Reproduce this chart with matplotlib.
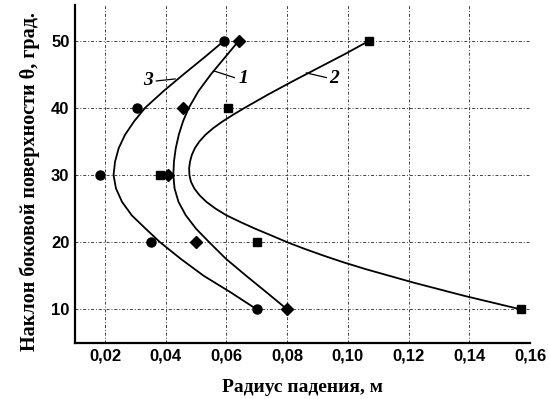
import numpy as np
import matplotlib.pyplot as plt

# Экспериментальные точки: угол наклона и радиус падения для трёх серий
theta = [10, 20, 30, 40, 50]
r1 = [0.080, 0.050, 0.0406, 0.0457, 0.0641]   # серия 1 (ромбы)
r2 = [0.157, 0.070, 0.0382, 0.0606, 0.1071]   # серия 2 (квадраты)
r3 = [0.070, 0.035, 0.0183, 0.0305, 0.0593]   # серия 3 (круги)

# Аппроксимирующие кривые
c1_theta = [50, 47.5, 45, 42.5, 40, 38, 36, 34, 32, 30, 28, 26, 24, 22, 20, 17.5, 15, 12.5, 10]
c1_r = [0.0641, 0.0595, 0.0549, 0.0508, 0.0476, 0.0457, 0.0443, 0.0433, 0.0427, 0.0425,
        0.0429, 0.0442, 0.0466, 0.0500, 0.0543, 0.0599, 0.0665, 0.0733, 0.0800]

c2_theta = [50, 48, 46, 44, 42, 40, 39, 38, 37, 36, 35, 34, 33, 32, 31, 30, 29, 28, 27, 26,
            25, 24, 23, 22, 21, 20, 19, 18, 17, 16, 14, 12, 10]
c2_r = [0.1071, 0.0990, 0.0905, 0.0820, 0.0738, 0.0660, 0.0623, 0.0588, 0.0557, 0.0531,
        0.0511, 0.0496, 0.0486, 0.0480, 0.0477, 0.0478, 0.0483, 0.0494, 0.0511, 0.0534,
        0.0564, 0.0600, 0.0646, 0.0695, 0.0748, 0.0800, 0.0858, 0.0920, 0.0986, 0.1058,
        0.1215, 0.1385, 0.1570]

c3_theta = [50, 47.5, 45, 42.5, 40, 38, 36, 34, 32, 30, 28, 26, 24, 22, 20, 17.5, 15, 12.5, 10]
c3_r = [0.0593, 0.0527, 0.0459, 0.0393, 0.0332, 0.0296, 0.0266, 0.0245, 0.0233, 0.0228,
        0.0236, 0.0256, 0.0288, 0.0334, 0.0381, 0.0450, 0.0525, 0.0615, 0.0700]

x_ticks = [0.02, 0.04, 0.06, 0.08, 0.10, 0.12, 0.14, 0.16]
x_labels = ['0,02', '0,04', '0,06', '0,08', '0,10', '0,12', '0,14', '0,16']
y_ticks = [10, 20, 30, 40, 50]

fig = plt.figure(figsize=(5.49, 3.99), dpi=100)
ax = fig.add_axes([0.1366, 0.1404, 0.8288, 0.847])

# кривые
for cr, ct in [(c1_r, c1_theta), (c2_r, c2_theta), (c3_r, c3_theta)]:
    ax.plot(cr, ct, color='black', lw=1.3, zorder=3, solid_joinstyle='round')

# точки
ax.plot(r1, theta, 'D', color='black', ms=6.5, ls='none', zorder=4)
ax.plot(r2, theta, 's', color='black', ms=5.5, ls='none', zorder=4)
ax.plot(r3, theta, 'o', color='black', ms=6.5, ls='none', zorder=4)

# подписи кривых с выносками
lab_font = dict(family='Liberation Serif', style='italic', weight='bold', fontsize=14)
ax.plot([0.0369, 0.0431], [44.0, 44.3], color='black', lw=0.9)
ax.text(0.0343, 44.1, '3', ha='center', va='center', **lab_font)
ax.plot([0.0558, 0.0626], [45.5, 44.5], color='black', lw=0.9)
ax.text(0.0655, 44.3, '1', ha='center', va='center', **lab_font)
ax.plot([0.0863, 0.0929], [45.2, 44.5], color='black', lw=0.9)
ax.text(0.0953, 44.4, '2', ha='center', va='center', **lab_font)

ax.set_xlim(0.0101, 0.16)
ax.set_ylim(5, 55.3)
ax.set_xticks(x_ticks)
ax.set_xticklabels(x_labels)
ax.set_yticks(y_ticks)
for lbl in ax.get_xticklabels() + ax.get_yticklabels():
    lbl.set_family('Liberation Sans')
    lbl.set_fontweight('bold')
    lbl.set_fontsize(12)
ax.tick_params(length=0, pad=4)

ax.grid(True, color='0.25', lw=0.7, ls=(0, (3, 2, 1, 2)))
ax.set_axisbelow(True)
for s in ['top', 'right']:
    ax.spines[s].set_visible(False)
for s in ['left', 'bottom']:
    ax.spines[s].set_linewidth(1.6)

ax.set_xlabel('Радиус падения, м', family='Liberation Serif', weight='bold',
              fontsize=14, labelpad=11)
ax.set_ylabel('Наклон боковой поверхности θ, град.', family='Liberation Serif',
              weight='bold', fontsize=14.5)
ax.yaxis.set_label_coords(-0.077, 0.479)

fig.savefig('out.png', dpi=100)
